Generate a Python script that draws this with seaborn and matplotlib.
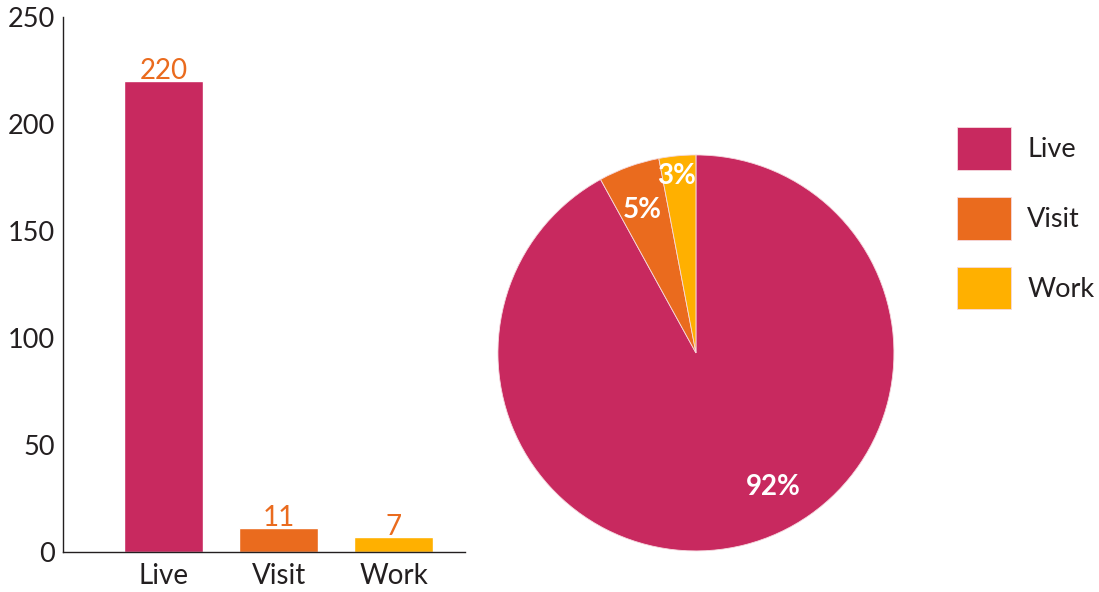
import numpy as np
import matplotlib
matplotlib.use("Agg")
import matplotlib.pyplot as plt
import seaborn as sns

# data
categories = ["Live", "Visit", "Work"]
counts = [220, 11, 7]
pie_share = [92, 5, 3]
colors = ["#C8295F", "#EA6B1E", "#FFB000"]
yticks = [0, 50, 100, 150, 200, 250]

sns.set_theme(style="white")
plt.rcParams["font.family"] = ["Lato", "DejaVu Sans"]
txt = "#231F20"

fig = plt.figure(figsize=(10.99, 5.92), dpi=100)

# bar chart
ax = fig.add_axes([0.0573, 0.0676, 0.3658, 0.9037])
sns.barplot(x=categories, y=counts, hue=categories, palette=colors,
            width=0.687, saturation=1, legend=False, ax=ax)
ax.set_ylim(0, 250)
ax.set_xlim(-0.874, 2.62)
ax.set_yticks(yticks)
ax.tick_params(axis="y", direction="in", length=13.5, width=1, color="#7F7F7F",
               pad=6, labelsize=19.5, labelcolor=txt)
ax.tick_params(axis="x", length=0, pad=8, labelsize=20, labelcolor=txt)
for s in ["top", "right"]:
    ax.spines[s].set_visible(False)
for s in ["left", "bottom"]:
    ax.spines[s].set_color("#231F20")
    ax.spines[s].set_linewidth(1)
ax.set_xlabel("")
ax.set_ylabel("")
for c in ax.containers:
    ax.bar_label(c, padding=-2, color="#EA6B1E", fontsize=20)

# pie chart
pax = fig.add_axes([0.4531, 0.0693, 0.3603, 0.669])
wedges, texts, autotexts = pax.pie(
    pie_share, colors=colors, startangle=90, counterclock=False,
    autopct=lambda p: "{:.0f}%".format(p), pctdistance=0.78,
    wedgeprops=dict(edgecolor="#F6D9DF", linewidth=0.6),
    textprops=dict(color="white", fontsize=20, fontweight="bold"))
pax.set_xlim(-1, 1)
pax.set_ylim(-1, 1)
pax.set_aspect("equal")
# label placement (angle in degrees, radius as fraction)
label_pos = [(-60, 0.78), (110.5, 0.77), (96.1, 0.9)]
for t, (a, r) in zip(autotexts, label_pos):
    t.set_position((r * np.cos(np.radians(a)), r * np.sin(np.radians(a))))

# legend
leg = fig.legend(wedges, categories, loc="upper left",
                 bbox_to_anchor=(957 / 1099, (592 - 127) / 592),
                 frameon=False, fontsize=19.5, handlelength=2.0, handleheight=2.05,
                 handletextpad=0.6, labelspacing=1.0, borderpad=0, borderaxespad=0)
for t in leg.get_texts():
    t.set_color(txt)

fig.savefig("out.png", dpi=100)
